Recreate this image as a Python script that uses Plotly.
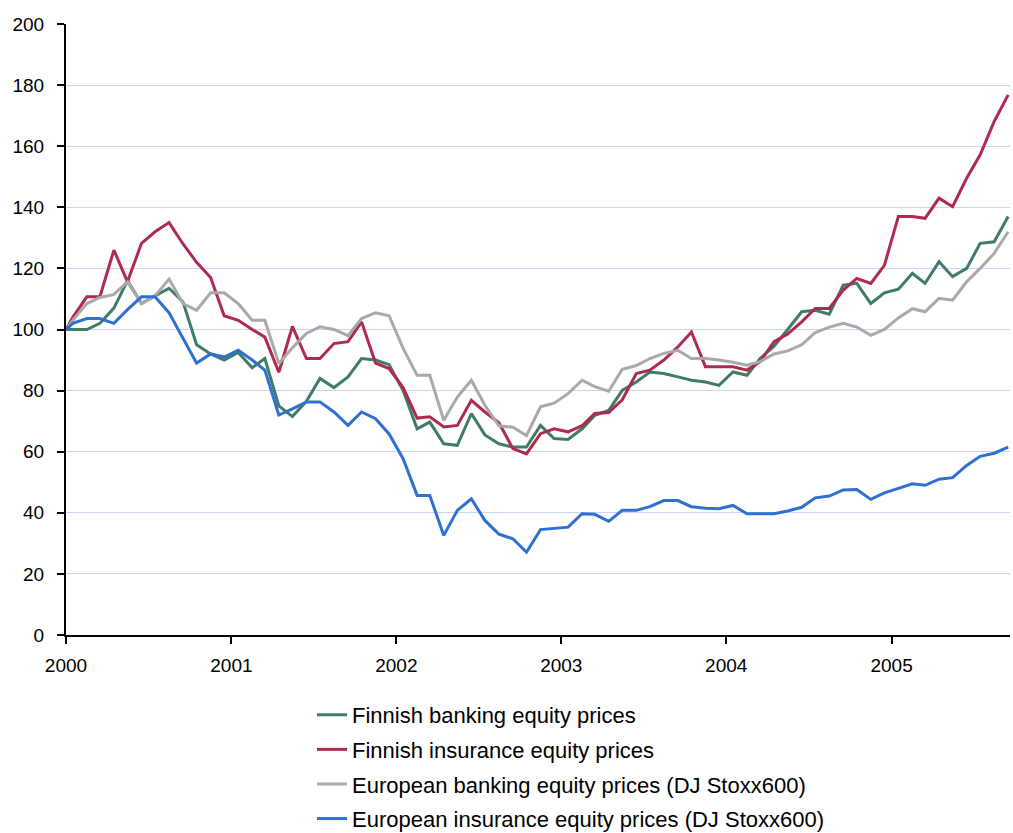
import plotly.graph_objects as go
import pandas as pd

# x positions: index base at start of 2000, then monthly observations (mid-month)
month_starts = pd.date_range("2000-01-01", periods=69, freq="MS")
dates = ["2000-01-01"] + [(d + pd.Timedelta(days=15)).strftime("%Y-%m-%d") for d in month_starts]

finnish_banking = [
    100, 100, 100, 102, 107, 116, 108.5, 111, 113.5, 109, 95, 92, 90,
    92.5, 87.5, 90.5, 75, 71.5, 76.5, 84, 81, 84.5, 90.5, 90, 88.5,
    80, 67.5, 69.7, 62.6, 62.1, 72.5, 65.5, 62.6, 61.5, 61.5, 68.6, 64.3,
    64, 67.5, 71.9, 73.5, 80.1, 82.8, 86.1, 85.6, 84.5, 83.4, 82.8, 81.7,
    86.1, 85, 90.5, 94.5, 100, 105.8, 106.3, 105, 114.5, 115.1, 108.5, 112,
    113.2, 118.4, 115.1, 122.2, 117.3, 120, 128.2, 128.7, 137,
]
finnish_insurance = [
    100, 104, 110.7, 110.7, 126, 115.6, 128.2, 132, 135, 128, 122, 117, 104.5,
    103, 100, 97.5, 86, 101, 90.5, 90.5, 95.4, 96, 102.5, 89, 87.2,
    81, 71, 71.4, 68.1, 68.6, 76.8, 73, 69.5, 61, 59.3, 65.9, 67.5,
    66.5, 68.5, 72.5, 72.8, 77, 85.6, 86.7, 90, 94.3, 99.2, 87.8, 87.8,
    87.8, 86.7, 89.5, 96, 98.5, 102.5, 106.9, 106.9, 112.9, 116.7, 115.1, 121,
    137, 137, 136.4, 143, 140.2, 149.5, 157.2, 168.1, 176.8,
]
european_banking = [
    100, 103, 108.5, 110.5, 111.5, 115.6, 108.5, 111, 116.5, 108.5, 106.3, 112, 112,
    108.5, 103, 103, 88.9, 94, 98.7, 100.9, 100, 98, 103.6, 105.5, 104.5,
    93.8, 85, 85, 70.3, 77.9, 83.4, 75.2, 68.5, 68, 65.3, 74.7, 75.9,
    79, 83.4, 81.3, 79.8, 87, 88.2, 90.5, 92.2, 93.2, 90.5, 90.5, 90,
    89.3, 88.3, 89.5, 92, 93, 95, 99, 100.8, 102, 100.8, 98.1, 100,
    103.8, 106.8, 105.8, 110.2, 109.6, 115.6, 120, 124.9, 132,
]
european_insurance = [
    100, 102, 103.6, 103.6, 102, 106.5, 110.7, 110.7, 105.5, 97, 89, 92, 91,
    93.2, 90, 86.7, 72, 74, 76.3, 76.3, 73, 68.6, 73, 70.8, 65.8,
    57.7, 45.7, 45.7, 32.6, 40.8, 44.6, 37.5, 33, 31.5, 27.1, 34.5, 34.8,
    35.3, 39.7, 39.5, 37.2, 40.8, 40.8, 42, 44, 44, 42, 41.5, 41.3,
    42.4, 39.7, 39.7, 39.7, 40.6, 41.8, 44.9, 45.5, 47.5, 47.6, 44.4, 46.5,
    48, 49.5, 49, 51, 51.5, 55.5, 58.5, 59.5, 61.5,
]

series_names = [
    "Finnish banking equity prices",
    "Finnish insurance equity prices",
    "European banking equity prices (DJ Stoxx600)",
    "European insurance equity prices (DJ Stoxx600)",
]
series_values = [finnish_banking, finnish_insurance, european_banking, european_insurance]
series_colors = ["#3f7c66", "#b02a4e", "#a9a9a9", "#2f6fd2"]

year_ticks = ["2000-01-01", "2001-01-01", "2002-01-01", "2003-01-01", "2004-01-01", "2005-01-01"]
year_labels = ["2000", "2001", "2002", "2003", "2004", "2005"]

fig = go.Figure()
for i, (name, vals, col) in enumerate(zip(series_names, series_values, series_colors)):
    fig.add_trace(go.Scatter(
        x=dates, y=vals, mode="lines", name=name,
        line=dict(color=col, width=3),
        legendgroup=f"g{i}",
    ))

font_family = "Liberation Sans, Arial, sans-serif"

fig.update_layout(
    width=1013, height=833,
    margin=dict(l=66, r=3, t=24, b=198),
    paper_bgcolor="white", plot_bgcolor="white",
    font=dict(family=font_family, size=19, color="black"),
    showlegend=True,
    legend=dict(
        x=0.2606, xref="paper", y=0.1669, yref="container",
        xanchor="left", yanchor="top",
        orientation="v", font=dict(size=22, color="black"),
        tracegroupgap=3, bgcolor="rgba(0,0,0,0)",
    ),
    xaxis=dict(
        type="date",
        range=["2000-01-01", "2005-09-20"],
        tickvals=year_ticks, ticktext=year_labels,
        ticks="outside", ticklen=7, tickcolor="black", tickwidth=1.5,
        showline=True, linecolor="black", linewidth=2,
        showgrid=False, zeroline=False, automargin=False,
        ticklabelstandoff=5,
        tickfont=dict(size=19),
    ),
    yaxis=dict(
        range=[0, 200], dtick=20, tick0=0,
        ticks="outside", ticklen=7, tickcolor="black", tickwidth=1.5,
        showline=True, linecolor="black", linewidth=2,
        showgrid=True, gridcolor="#c9d5f2", gridwidth=1,
        zeroline=False, automargin=False,
        ticklabelstandoff=9,
        tickfont=dict(size=19),
    ),
)

fig.write_html(
    "out.html",
    config={"displayModeBar": False},
    post_script="document.body.style.margin='0px';document.body.style.overflow='hidden';",
)
